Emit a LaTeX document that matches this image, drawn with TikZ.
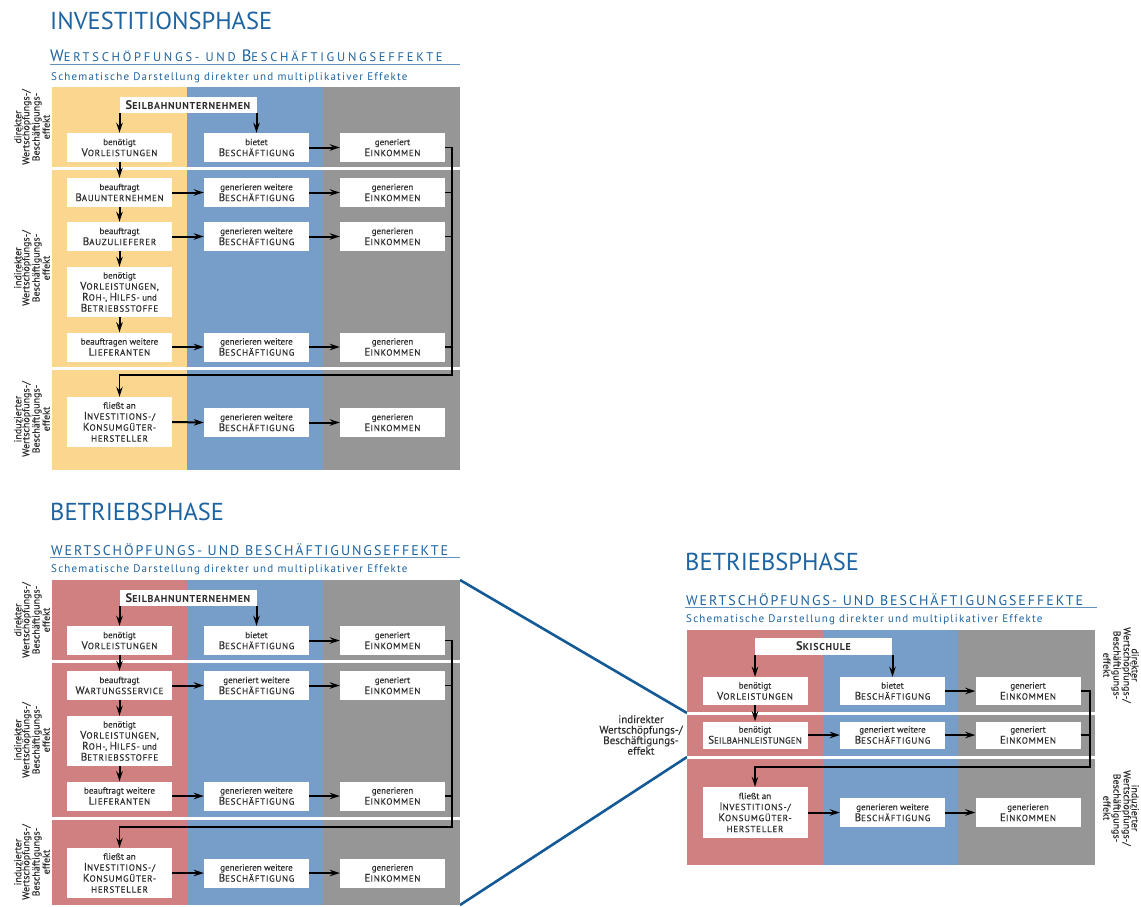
\documentclass[tikz,border=0pt]{standalone}
\usepackage{fontspec}
\setmainfont{PT Sans}
\usetikzlibrary{arrows.meta}
\definecolor{cyel}{RGB}{250,214,142}
\definecolor{cblu}{RGB}{118,158,200}
\definecolor{cgry}{RGB}{150,150,150}
\definecolor{cred}{RGB}{208,128,128}
\definecolor{tblue}{RGB}{30,100,160}
\definecolor{lblue}{RGB}{20,90,150}
\definecolor{txt}{RGB}{45,45,45}
\newcommand\K[2]{{\addfontfeature{LetterSpace=8}\fontsize{11}{11}\selectfont #1\fontsize{9}{11}\selectfont #2}}
\newcommand\Kn[2]{{\addfontfeature{LetterSpace=2}\fontsize{11}{11}\selectfont #1\fontsize{9}{11}\selectfont #2}}
\newcommand\Ks[1]{{\addfontfeature{LetterSpace=8}\fontsize{9}{11}\selectfont #1}}
\newcommand\Hd[2]{{\bfseries\addfontfeature{LetterSpace=7}\fontsize{12.5}{14}\selectfont #1\fontsize{10}{14}\selectfont #2}}
\newcommand\Ttl[1]{{\fontsize{24.5}{26}\selectfont #1}}
\newcommand\SubA{{\addfontfeature{LetterSpace=22}\fontsize{16.5}{18}\selectfont W\fontsize{12.5}{18}\selectfont ERTSCHÖPFUNGS- UND \fontsize{16.5}{18}\selectfont B\fontsize{12.5}{18}\selectfont ESCHÄFTIGUNGSEFFEKTE}}
\newcommand\SubB{{\addfontfeature{LetterSpace=14}\fontsize{14}{16}\selectfont WERTSCHÖPFUNGS- UND BESCHÄFTIGUNGSEFFEKTE}}
\newcommand\Schem{{\addfontfeature{LetterSpace=11}\fontsize{11}{13}\selectfont Schematische Darstellung direkter und multiplikativer Effekte}}
\newcommand\Bes{\K{B}{ESCHÄFTIGUNG}}
\newcommand\Ein{\K{E}{INKOMMEN}}
\tikzset{
  bx/.style={fill=white, inner sep=0pt, align=center, text=txt,
    font=\fontsize{9}{11}\selectfont\addfontfeature{FakeBold=0.3}, minimum width=105pt, minimum height=29pt},
  tall/.style={minimum height=50pt},
  hdr/.style={fill=white, inner sep=0pt, text=txt, minimum width=137pt, minimum height=16pt},
  arr/.style={line width=2pt, draw=black, -{Stealth[length=10pt,width=6.5pt]}},
  fb/.style={line width=1.4pt, draw=black},
  fbarr/.style={fb, -{Stealth[length=10pt,width=6.5pt]}},
  sep/.style={draw=white, line width=3pt},
  side/.style={align=center, text=txt, font=\fontsize{10}{8}\selectfont\addfontfeature{FakeBold=0.2}, inner sep=0pt},
  mid/.style={align=center, text=txt, font=\fontsize{11}{10.5}\selectfont\addfontfeature{FakeBold=0.2}, inner sep=0pt},
  link/.style={draw=lblue, line width=2.6pt},
  ttl/.style={anchor=base west, inner sep=0pt, text=tblue},
  uline/.style={draw=tblue!70, line width=0.9pt},
}
\begin{document}
\begin{tikzpicture}[x=1pt,y=-1pt]
\useasboundingbox (0,0) rectangle (1141,907);
\fill[white] (0,0) rectangle (1141,907);

% ================= TOP: INVESTITIONSPHASE =================
\node[ttl] (tT) at (50,30) {\Ttl{INVESTITIONSPHASE}};
\node[ttl] (tU) at (50,62) {\SubA};
\draw[uline] (50,64.5) -- (460,64.5);
\node[ttl] (tSc) at (51,81) {\Schem};

\fill[cyel] (52,87) rectangle (187,470);
\fill[cblu] (187,87) rectangle (323,470);
\fill[cgry] (323,87) rectangle (460,470);
\draw[sep] (52,168) -- (460,168);
\draw[sep] (52,368) -- (460,368);

\node[side,rotate=90] (tLd) at (32,127) {direkter\\Wertschöpfungs-/\\Beschäftigungs-\\effekt};
\node[side,rotate=90] (tLi) at (32,268) {indirekter\\Wertschöpfungs-/\\Beschäftigungs-\\effekt};
\node[side,rotate=90] (tLz) at (32,419) {induzierter\\Wertschöpfungs-/\\Beschäftigungs-\\effekt};

\node[hdr] (tS) at (188,105) {\Hd{S}{EILBAHNUNTERNEHMEN}};
\node[bx] (tA1) at (119.5,147.5) {benötigt\\\K{V}{ORLEISTUNGEN}};
\node[bx] (tB1) at (256.5,147.5) {bietet\\\Bes};
\node[bx] (tC1) at (392.5,147.5) {generiert\\\Ein};
\node[bx] (tA2) at (119.5,192.5) {beauftragt\\\K{B}{AUUNTERNEHMEN}};
\node[bx] (tB2) at (256.5,192.5) {generieren weitere\\\Bes};
\node[bx] (tC2) at (392.5,192.5) {generieren\\\Ein};
\node[bx] (tA3) at (119.5,236.5) {beauftragt\\\K{B}{AUZULIEFERER}};
\node[bx] (tB3) at (256.5,236.5) {generieren weitere\\\Bes};
\node[bx] (tC3) at (392.5,236.5) {generieren\\\Ein};
\node[bx,tall] (tA4) at (119.5,292) {benötigt\\\K{V}{ORLEISTUNGEN,}\\\K{R}{OH-,} \K{H}{ILFS-} und\\\K{B}{ETRIEBSSTOFFE}};
\node[bx] (tA5) at (119.5,347) {beauftragen weitere\\\K{L}{IEFERANTEN}};
\node[bx] (tB5) at (256.5,347) {generieren weitere\\\Bes};
\node[bx] (tC5) at (392.5,347) {generieren\\\Ein};
\node[bx,tall] (tA6) at (119.5,422) {fließt an\\\K{I}{NVESTITIONS-/}\\\K{K}{ONSUMGÜTER-}\\\Ks{HERSTELLER}};
\node[bx] (tB6) at (256.5,422.5) {generieren weitere\\\Bes};
\node[bx] (tC6) at (392.5,422.5) {generieren\\\Ein};

\draw[arr] (tS.south -| tA1.north) -- (tA1.north);
\draw[arr] (tS.south -| tB1.north) -- (tB1.north);
\draw[arr] (tA1.south) -- (tA2.north);
\draw[arr] (tA2.south) -- (tA3.north);
\draw[arr] (tA3.south) -- (tA4.north);
\draw[arr] (tA4.south) -- (tA5.north);
\draw[arr] (tB1.east) -- (tC1.west);
\draw[arr] (tA2.east) -- (tB2.west);
\draw[arr] (tB2.east) -- (tC2.west);
\draw[arr] (tA3.east) -- (tB3.west);
\draw[arr] (tB3.east) -- (tC3.west);
\draw[arr] (tA5.east) -- (tB5.west);
\draw[arr] (tB5.east) -- (tC5.west);
\draw[arr] (tA6.east) -- (tB6.west);
\draw[arr] (tB6.east) -- (tC6.west);
\coordinate (tR) at (452,375);
\draw[fbarr] (tC1.east) -| (tR) -| (tA6.north);
\draw[fb] (tC2.east) -- (tC2.east -| tR);
\draw[fb] (tC3.east) -- (tC3.east -| tR);
\draw[fb] (tC5.east) -- (tC5.east -| tR);

% ================= BOTTOM LEFT: BETRIEBSPHASE =================
\coordinate (bTR) at (460,580);
\coordinate (bBR) at (460,905);
\coordinate (rJ1) at (687,713);
\coordinate (rJ2) at (687,757);
\draw[link] (bTR) -- (rJ1);
\draw[link] (bBR) -- (rJ2);

\node[ttl] (bT) at (50,520) {\Ttl{BETRIEBSPHASE}};
\node[ttl] (bU) at (51,555) {\SubB};
\draw[uline] (50,557.5) -- (460,557.5);
\node[ttl] (bSc) at (51,572) {\Schem};

\fill[cred] (52,580) rectangle (187,905);
\fill[cblu] (187,580) rectangle (323,905);
\fill[cgry] (323,580) rectangle (460,905);
\draw[sep] (52,661) -- (460,661);
\draw[sep] (52,818) -- (460,818);

\node[side,rotate=90] (bLd) at (32,620) {direkter\\Wertschöpfungs-/\\Beschäftigungs-\\effekt};
\node[side,rotate=90] (bLi) at (32,740) {indirekter\\Wertschöpfungs-/\\Beschäftigungs-\\effekt};
\node[side,rotate=90] (bLz) at (32,862) {induzierter\\Wertschöpfungs-/\\Beschäftigungs-\\effekt};

\node[hdr] (bS) at (188,598) {\Hd{S}{EILBAHNUNTERNEHMEN}};
\node[bx] (bA1) at (119.5,640.5) {benötigt\\\K{V}{ORLEISTUNGEN}};
\node[bx] (bB1) at (256.5,640.5) {bietet\\\Bes};
\node[bx] (bC1) at (392.5,640.5) {generiert\\\Ein};
\node[bx] (bA2) at (119.5,685.5) {beauftragt\\\K{W}{ARTUNGSSERVICE}};
\node[bx] (bB2) at (256.5,685.5) {generiert weitere\\\Bes};
\node[bx] (bC2) at (392.5,685.5) {generiert\\\Ein};
\node[bx,tall] (bA3) at (119.5,741) {benötigt\\\K{V}{ORLEISTUNGEN,}\\\K{R}{OH-,} \K{H}{ILFS-} und\\\K{B}{ETRIEBSSTOFFE}};
\node[bx] (bA4) at (119.5,796) {beauftragt weitere\\\K{L}{IEFERANTEN}};
\node[bx] (bB4) at (256.5,796) {generieren weitere\\\Bes};
\node[bx] (bC4) at (392.5,796) {generieren\\\Ein};
\node[bx,tall] (bA5) at (119.5,873) {fließt an\\\K{I}{NVESTITIONS-/}\\\K{K}{ONSUMGÜTER-}\\\Ks{HERSTELLER}};
\node[bx] (bB5) at (256.5,873) {generieren weitere\\\Bes};
\node[bx] (bC5) at (392.5,873) {generieren\\\Ein};

\draw[arr] (bS.south -| bA1.north) -- (bA1.north);
\draw[arr] (bS.south -| bB1.north) -- (bB1.north);
\draw[arr] (bA1.south) -- (bA2.north);
\draw[arr] (bA2.south) -- (bA3.north);
\draw[arr] (bA3.south) -- (bA4.north);
\draw[arr] (bB1.east) -- (bC1.west);
\draw[arr] (bA2.east) -- (bB2.west);
\draw[arr] (bB2.east) -- (bC2.west);
\draw[arr] (bA4.east) -- (bB4.west);
\draw[arr] (bB4.east) -- (bC4.west);
\draw[arr] (bA5.east) -- (bB5.west);
\draw[arr] (bB5.east) -- (bC5.west);
\coordinate (bR) at (452,827);
\draw[fbarr] (bC1.east) -| (bR) -| (bA5.north);
\draw[fb] (bC2.east) -- (bC2.east -| bR);
\draw[fb] (bC4.east) -- (bC4.east -| bR);

% ================= RIGHT: BETRIEBSPHASE (Skischule) =================
\node[ttl] (rT) at (685,570) {\Ttl{BETRIEBSPHASE}};
\node[ttl] (rU) at (686,605) {\SubB};
\draw[uline] (685,607.5) -- (1097,607.5);
\node[ttl] (rSc) at (686,622) {\Schem};

\fill[cred] (687,630) rectangle (823,865);
\fill[cblu] (823,630) rectangle (958,865);
\fill[cgry] (958,630) rectangle (1095,865);
\draw[sep] (687,713) -- (1095,713);
\draw[sep] (687,757) -- (1095,757);

\node[mid] (rLi) at (641,735) {indirekter\\Wertschöpfungs-/\\Beschäftigungs-\\effekt};
\node[side,rotate=-90] (rLd) at (1121,665) {direkter\\Wertschöpfungs-/\\Beschäftigungs-\\effekt};
\node[side,rotate=-90] (rLz) at (1121,808) {induzierter\\Wertschöpfungs-/\\Beschäftigungs-\\effekt};

\node[hdr,minimum height=17pt] (rS) at (823.5,646.5) {\Hd{S}{KISCHULE}};
\node[bx,minimum height=28pt] (rA1) at (755,691) {benötigt\\\K{V}{ORLEISTUNGEN}};
\node[bx,minimum height=28pt] (rB1) at (892.5,691) {bietet\\\Bes};
\node[bx,minimum height=28pt] (rC1) at (1028,691) {generiert\\\Ein};
\node[bx,minimum height=27pt] (rA2) at (755,735) {benötigt\\\Kn{S}{EILBAHNLEISTUNGEN}};
\node[bx,minimum height=27pt] (rB2) at (892.5,735) {generiert weitere\\\Bes};
\node[bx,minimum height=27pt] (rC2) at (1028,735) {generiert\\\Ein};
\node[bx,minimum height=51pt] (rA3) at (755,812.5) {fließt an\\\K{I}{NVESTITIONS-/}\\\K{K}{ONSUMGÜTER-}\\\Ks{HERSTELLER}};
\node[bx] (rB3) at (892.5,812.5) {generieren weitere\\\Bes};
\node[bx] (rC3) at (1028,812.5) {generieren\\\Ein};

\draw[arr] (rS.south -| rA1.north) -- (rA1.north);
\draw[arr] (rS.south -| rB1.north) -- (rB1.north);
\draw[arr] (rA1.south) -- (rA2.north);
\draw[arr] (rB1.east) -- (rC1.west);
\draw[arr] (rA2.east) -- (rB2.west);
\draw[arr] (rB2.east) -- (rC2.west);
\draw[arr] (rA3.east) -- (rB3.west);
\draw[arr] (rB3.east) -- (rC3.west);
\coordinate (rR) at (1090,767);
\draw[fbarr] (rC1.east) -| (rR) -| (rA3.north);
\draw[fb] (rC2.east) -- (rC2.east -| rR);
\end{tikzpicture}
\end{document}
